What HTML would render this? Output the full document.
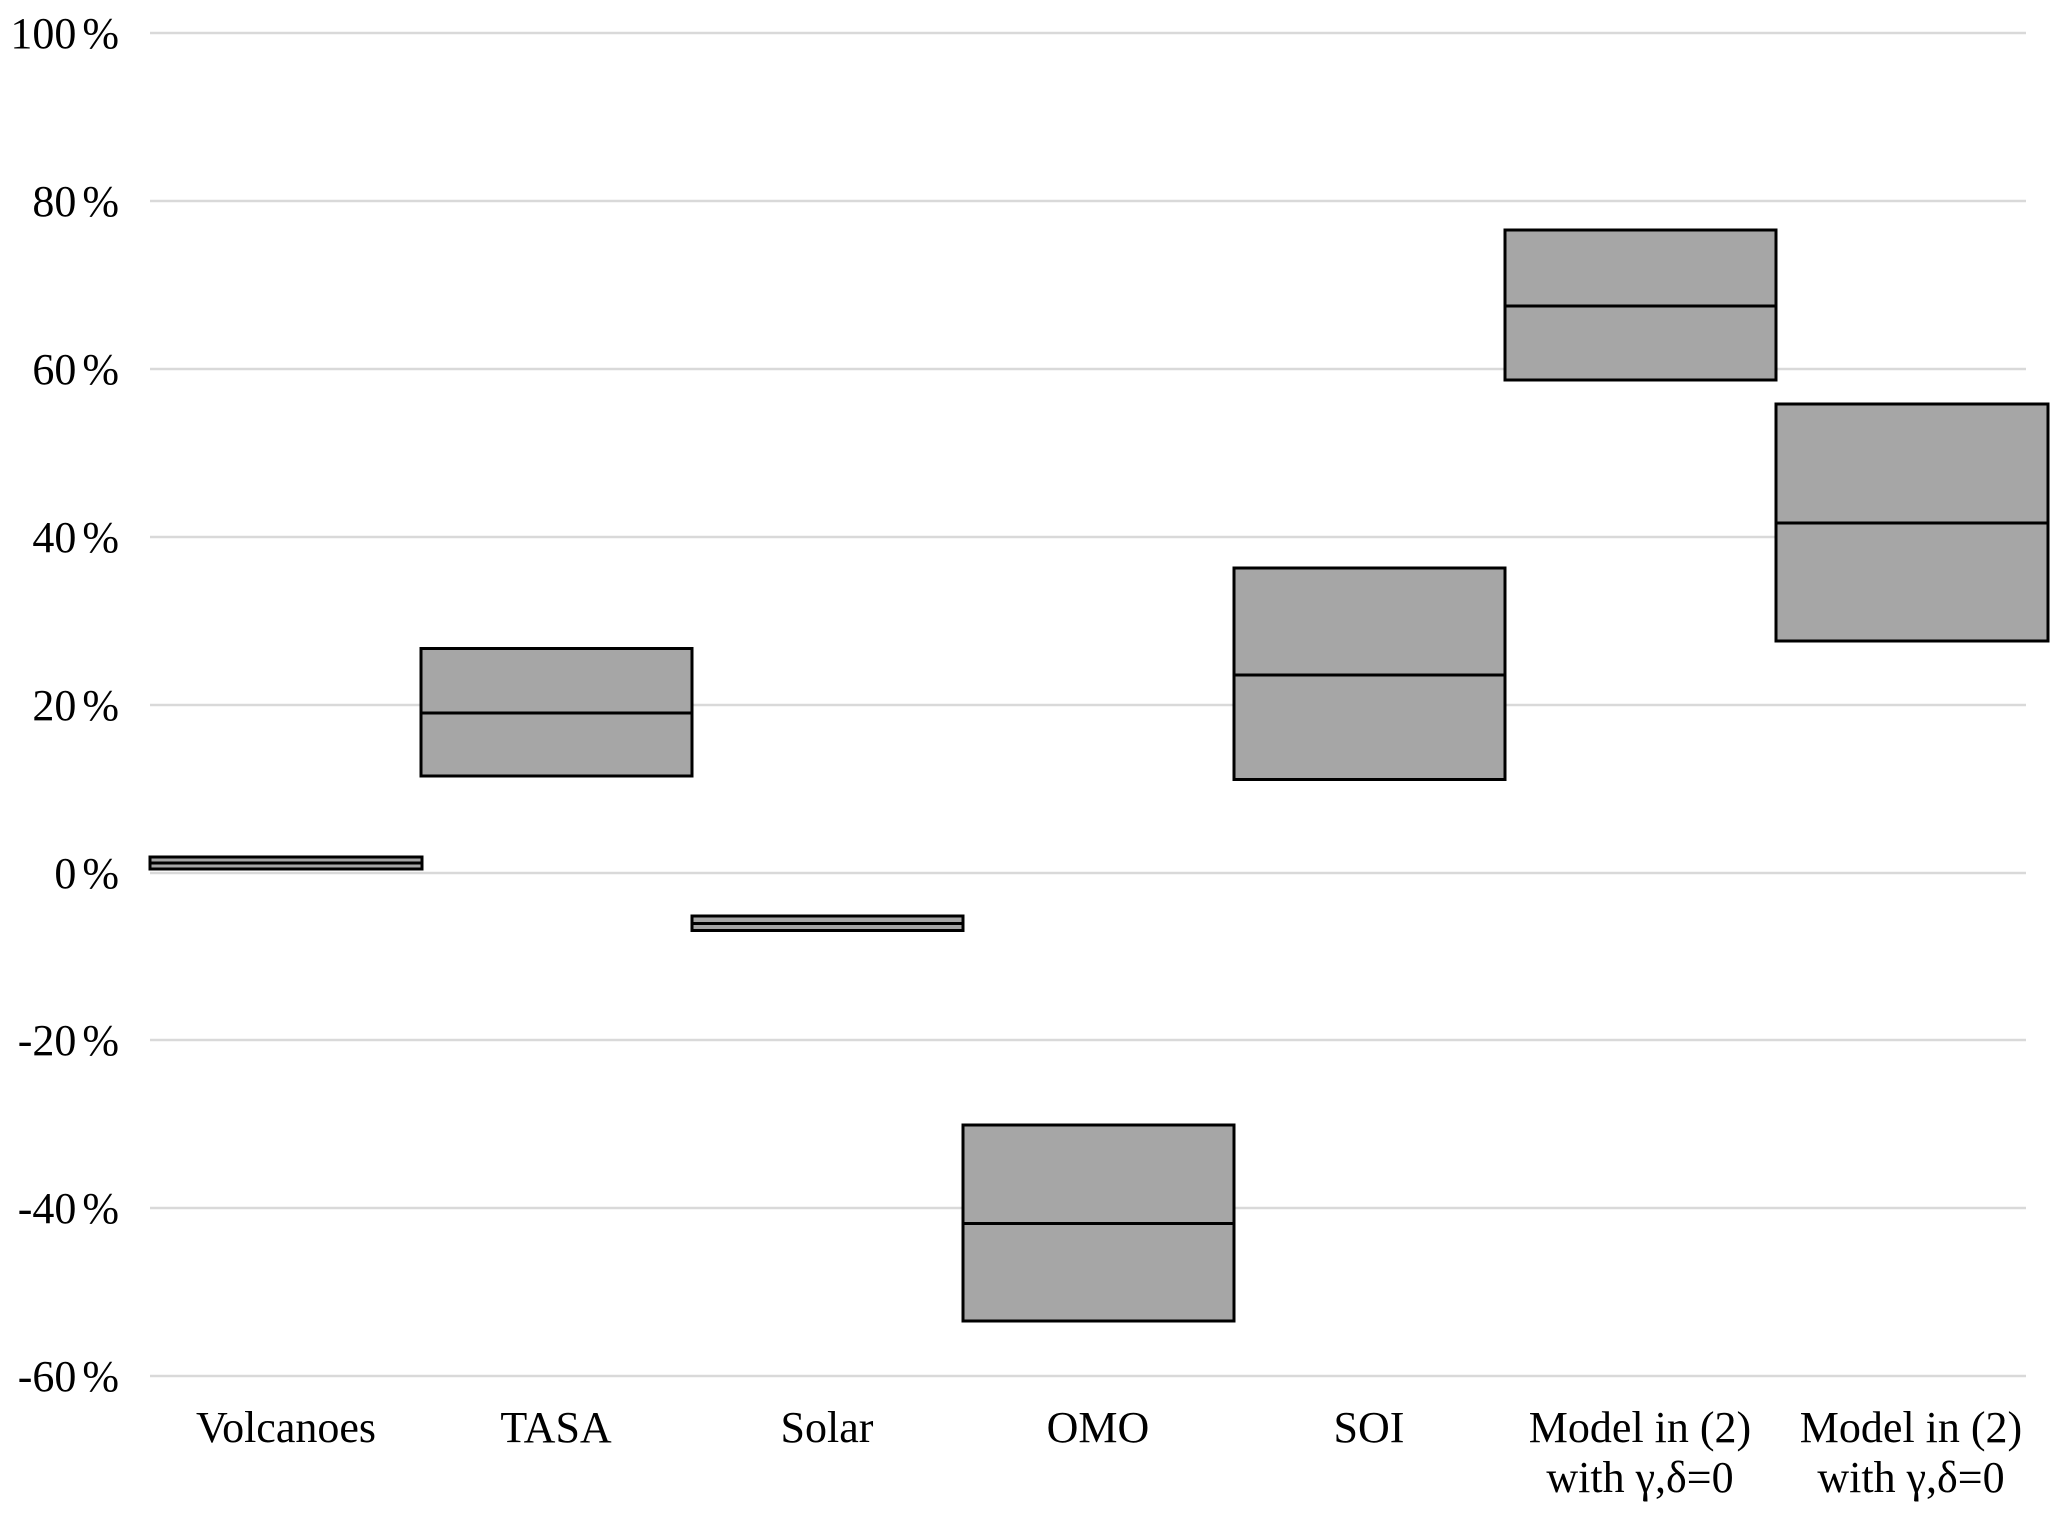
<!DOCTYPE html>
<html><head><meta charset="utf-8"><style>
html,body{margin:0;padding:0;background:#fff;}
svg{display:block;}
text{font-family:"Liberation Serif","Times New Roman",serif;font-size:44px;fill:#000;}
</style></head><body>
<svg width="2067" height="1519" viewBox="0 0 2067 1519" xmlns="http://www.w3.org/2000/svg">
<g stroke="#d9d9d9" stroke-width="2.5">
<line x1="150" x2="2026" y1="33" y2="33"/>
<line x1="150" x2="2026" y1="201" y2="201"/>
<line x1="150" x2="2026" y1="369" y2="369"/>
<line x1="150" x2="2026" y1="537" y2="537"/>
<line x1="150" x2="2026" y1="705" y2="705"/>
<line x1="150" x2="2026" y1="873" y2="873"/>
<line x1="150" x2="2026" y1="1040" y2="1040"/>
<line x1="150" x2="2026" y1="1208" y2="1208"/>
<line x1="150" x2="2026" y1="1376" y2="1376"/>
</g>
<g text-anchor="end">
<text x="119" y="48">100<tspan dx="6">%</tspan></text>
<text x="119" y="216">80<tspan dx="6">%</tspan></text>
<text x="119" y="384">60<tspan dx="6">%</tspan></text>
<text x="119" y="552">40<tspan dx="6">%</tspan></text>
<text x="119" y="720">20<tspan dx="6">%</tspan></text>
<text x="119" y="888">0<tspan dx="6">%</tspan></text>
<text x="119" y="1055">-20<tspan dx="6">%</tspan></text>
<text x="119" y="1223">-40<tspan dx="6">%</tspan></text>
<text x="119" y="1391">-60<tspan dx="6">%</tspan></text>
</g>
<g fill="#a6a6a6" stroke="#000" stroke-width="3">
<rect x="150" y="857" width="272" height="12"/><line x1="150" x2="422" y1="863" y2="863"/>
<rect x="421" y="648.5" width="271" height="127.5"/><line x1="421" x2="692" y1="713" y2="713"/>
<rect x="692" y="916" width="271" height="14.5"/><line x1="692" x2="963" y1="923.5" y2="923.5"/>
<rect x="963" y="1125" width="271" height="196"/><line x1="963" x2="1234" y1="1223.5" y2="1223.5"/>
<rect x="1234" y="568" width="271" height="211.5"/><line x1="1234" x2="1505" y1="675" y2="675"/>
<rect x="1505" y="230" width="271" height="150"/><line x1="1505" x2="1776" y1="306" y2="306"/>
<rect x="1776" y="404" width="272" height="237"/><line x1="1776" x2="2048" y1="523" y2="523"/>
</g>
<g text-anchor="middle">
<text x="286" y="1442">Volcanoes</text>
<text x="556" y="1442">TASA</text>
<text x="827" y="1442">Solar</text>
<text x="1098" y="1442">OMO</text>
<text x="1369" y="1442">SOI</text>
<text x="1640" y="1442">Model in (2)</text>
<text x="1640" y="1492">with γ,δ=0</text>
<text x="1911" y="1442">Model in (2)</text>
<text x="1911" y="1492">with γ,δ=0</text>
</g>
</svg>
</body></html>
